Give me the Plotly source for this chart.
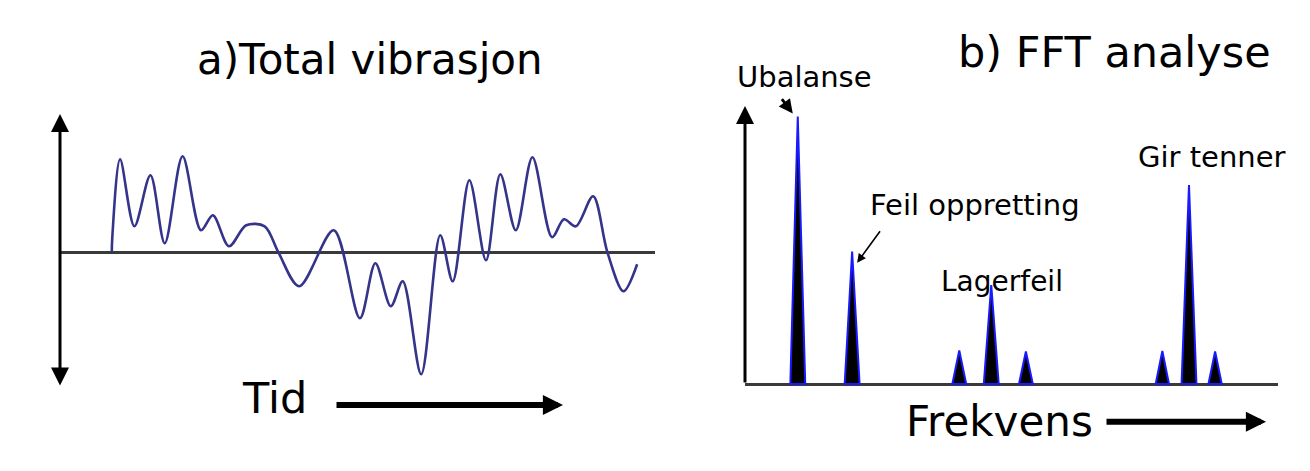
import plotly.graph_objects as go

W, H = 1310, 471

# ---- Panel a: total vibration (time 0-100, amplitude) ----
time_t = [8.7, 8.8, 10.1, 12.5, 15.2, 17.6, 20.6, 23.7, 25.7, 28.4, 31.3, 34.4,
          36.7, 40.2, 46.0, 50.4, 53.0, 55.6, 57.6, 60.7, 63.9, 66.0, 68.8,
          71.6, 74.0, 76.6, 79.4, 82.7, 84.7, 86.7, 89.6, 92.0, 94.7, 97.0]
amplitude = [0.00, 0.16, 0.93, 0.26, 0.77, 0.09, 0.96, 0.22, 0.37, 0.06, 0.27, 0.26,
             0.00, -0.34, 0.22, -0.66, -0.11, -0.54, -0.29, -1.22, 0.17, -0.29, 0.72,
             -0.08, 0.78, 0.22, 0.95, 0.15, 0.33, 0.26, 0.56, 0.00, -0.39, -0.12]

# ---- Panel b: FFT spectrum (frequency 0-100, amplitude 0-100) ----
peak_freq = [9.9, 20.1, 40.2, 46.2, 52.7, 78.3, 83.3, 88.2]
peak_amp = [96.2, 47.6, 12.1, 35.6, 11.7, 11.9, 71.6, 11.7]
peak_halfwidth = [1.4, 1.4, 1.3, 1.4, 1.3, 1.25, 1.4, 1.25]

title_a = "a)Total vibrasjon"
title_b = "b) FFT analyse"
label_time = "Tid"
label_freq = "Frekvens"
peak_labels = ["Ubalanse", "Feil oppretting", "Lagerfeil", "Gir tenner"]

FONT = "DejaVu Sans"


def pxx(x):
    return x / W


def pxy(y):
    return 1 - y / H


fig = go.Figure()

fig.add_trace(go.Scatter(
    x=time_t, y=amplitude, mode="lines",
    line=dict(color="#34348a", width=2.6, shape="spline", smoothing=0.9),
    xaxis="x", yaxis="y", hoverinfo="skip", showlegend=False))

for f, a, w in zip(peak_freq, peak_amp, peak_halfwidth):
    fig.add_trace(go.Scatter(
        x=[f - w, f, f + w, f - w], y=[0, a, 0, 0], mode="lines",
        fill="toself", fillcolor="#000000",
        line=dict(color="#1a1aff", width=2),
        xaxis="x2", yaxis="y2", hoverinfo="skip", showlegend=False))

axis_common = dict(showgrid=False, showticklabels=False, ticks="", showline=False)

fig.update_layout(
    width=W, height=H, autosize=False,
    margin=dict(l=0, r=0, t=0, b=0),
    paper_bgcolor="white", plot_bgcolor="white",
    showlegend=False,
    xaxis=dict(domain=[pxx(60), pxx(655)], range=[0, 100], zeroline=False,
               anchor="y", **axis_common),
    yaxis=dict(domain=[pxy(387), pxy(114)], range=[-1.347, 1.383], zeroline=True,
               zerolinecolor="#3a3a3a", zerolinewidth=2.5, anchor="x", **axis_common),
    xaxis2=dict(domain=[pxx(745), pxx(1278)], range=[0, 100], zeroline=False,
                anchor="y2", **axis_common),
    yaxis2=dict(domain=[pxy(386.8), pxy(106)], range=[-1, 100], zeroline=True,
                zerolinecolor="#3a3a3a", zerolinewidth=2.5, anchor="x2", **axis_common),
)

ann = []
# vertical axis arrows
ann.append(dict(x=0, y=1, xref="x domain", yref="y domain",
                ax=0, ay=0, axref="x domain", ayref="y domain",
                showarrow=True, arrowside="end+start", arrowhead=2, startarrowhead=2,
                arrowsize=1.2, startarrowsize=1.2, arrowwidth=3, arrowcolor="black",
                text=""))
ann.append(dict(x=0, y=1, xref="x2 domain", yref="y2 domain",
                ax=0, ay=0.01, axref="x2 domain", ayref="y2 domain",
                showarrow=True, arrowhead=2, arrowsize=1.2, arrowwidth=3,
                arrowcolor="black", text=""))
# horizontal direction arrows
ann.append(dict(x=pxx(563), y=pxy(405), xref="paper", yref="paper",
                ax=-228, ay=0, showarrow=True, arrowhead=2, arrowsize=0.67,
                arrowwidth=6, arrowcolor="black", text=""))
ann.append(dict(x=pxx(1266), y=pxy(421.7), xref="paper", yref="paper",
                ax=-161, ay=0, showarrow=True, arrowhead=2, arrowsize=0.67,
                arrowwidth=6, arrowcolor="black", text=""))
# pointer arrows to peaks
ann.append(dict(x=peak_freq[0], y=peak_amp[0], xref="x2", yref="y2",
                xshift=-5, yshift=3, ax=-12, ay=-16, showarrow=True,
                arrowhead=2, arrowsize=1.0, arrowwidth=2.8, arrowcolor="black", text=""))
ann.append(dict(x=peak_freq[1], y=peak_amp[1], xref="x2", yref="y2",
                xshift=5, yshift=-11, ax=24, ay=-33, showarrow=True,
                arrowhead=2, arrowsize=1.1, arrowwidth=1.6, arrowcolor="black", text=""))


def txt(s, x, y, size):
    return dict(text=s, x=pxx(x), y=pxy(y), xref="paper", yref="paper",
                xanchor="center", yanchor="middle", showarrow=False,
                font=dict(family=FONT, size=size, color="black"))


ann.append(txt(title_a, 370, 60, 42))
ann.append(txt(title_b, 1114, 52.5, 43))
ann.append(txt(label_time, 274, 398.4, 43))
ann.append(txt(label_freq, 999, 421.7, 42))
ann.append(txt(peak_labels[0], 804.5, 77, 29))
ann.append(txt(peak_labels[1], 975, 205, 29))
ann.append(txt(peak_labels[2], 1001.5, 281, 28))
ann.append(txt(peak_labels[3], 1211, 157, 29))

fig.update_layout(annotations=ann)

fig.write_html("out.html",
               config={"displayModeBar": False},
               post_script="document.body.style.margin='0px';"
                           "document.body.style.overflow='hidden';")
